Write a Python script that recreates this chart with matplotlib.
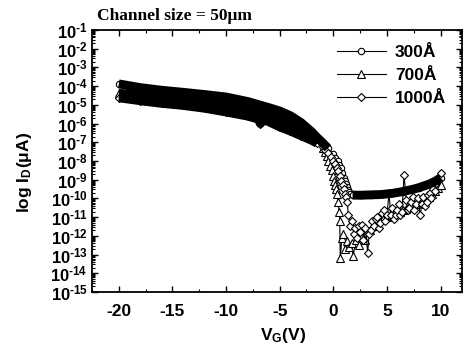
import numpy as np
import matplotlib
matplotlib.use('Agg')
import matplotlib.pyplot as plt
from matplotlib.lines import Line2D
from matplotlib.ticker import LogLocator, FuncFormatter, NullFormatter, MultipleLocator

# ---------------- data ----------------
labels = ['300Å', '700Å', '1000Å']

V_300 = [-20, -18, -16, -14, -12, -10, -8, -6, -5, -4, -3, -2, -1.5, -1.0, -0.5, 0.0, 0.2,
         0.4, 0.55, 0.7, 0.85, 1.0, 1.1, 1.2, 1.3, 1.4, 1.5, 1.6, 1.8, 2.5, 3.5, 4.5, 5.5, 6.5,
         7.5, 8.0, 8.5, 9.0, 9.5, 10.0]
logI_300 = [-3.88, -4.08, -4.22, -4.33, -4.45, -4.58, -4.82, -5.15, -5.33, -5.58, -5.95, -6.45, -6.75,
            -7.02, -7.32, -7.65, -7.85, -8.00, -8.20, -8.40, -8.65, -8.90, -9.05, -9.25, -9.40,
            -9.55, -9.68, -9.75, -9.82, -9.83, -9.81, -9.79, -9.73, -9.63, -9.50, -9.42, -9.32,
            -9.22, -9.08, -8.90]

V_700 = [-20, -18, -16, -14, -12, -10, -8, -6, -5, -4, -3, -2, -1.5, -1.0, -0.8, -0.6, -0.45, -0.3,
         -0.15, 0.0, 0.1, 0.2, 0.28, 0.35, 0.45, 0.55, 0.6, 0.65, 0.8, 0.95, 1.1, 1.3, 1.5, 1.7,
         1.85, 2.1, 2.4, 2.7, 3.0, 3.4, 3.8, 4.2, 4.6, 5.0, 5.3, 5.6, 5.9, 6.2, 6.5, 6.8, 7.1,
         7.4, 7.7, 8.0, 8.3, 8.6, 8.9, 9.2, 9.5, 9.75, 10.0]
logI_700 = [-4.39, -4.45, -4.56, -4.67, -4.80, -4.97, -5.20, -5.52, -5.75, -6.00, -6.30, -6.65, -6.90,
            -7.30, -7.50, -7.75, -8.00, -8.25, -8.50, -8.80, -9.05, -9.30, -9.50, -9.75, -10.20,
            -10.75, -11.20, -13.20, -12.10, -11.90, -12.70, -12.30, -12.60, -12.40, -13.10, -12.20,
            -12.50, -12.00, -12.20, -11.70, -11.50, -11.40, -11.10, -11.00, -10.90, -10.95, -10.80,
            -10.75, -10.60, -10.55, -10.45, -10.40, -10.30, -10.20, -10.10, -10.00, -9.90, -9.75,
            -9.60, -9.45, -9.30]

V_1000 = [-20, -18, -16, -14, -12, -10, -8, -7, -6.8, -6.6, -6, -5, -4, -3, -2, -1.5, -1.0, -0.75,
          -0.5, -0.25, 0.0, 0.15, 0.3, 0.45, 0.6, 0.75, 0.9, 1.0, 1.1, 1.2, 1.3, 1.4, 1.6, 1.75,
          1.9, 2.05, 2.2, 2.35, 2.5, 2.65, 2.8, 3.0, 3.2, 3.35, 3.5, 3.65, 3.8, 3.95, 4.1, 4.25,
          4.4, 4.55, 4.7, 4.85, 5.0, 5.2, 5.35, 5.5, 5.65, 5.8, 5.95, 6.1, 6.25, 6.4, 6.6, 6.8,
          6.95, 7.1, 7.25, 7.4, 7.55, 7.7, 7.9, 8.1, 8.25, 8.4, 8.55, 8.7, 8.85, 9.0, 9.15, 9.3,
          9.45, 9.6, 9.8, 10.0]
logI_1000 = [-4.62, -4.78, -4.92, -5.03, -5.18, -5.38, -5.60, -5.76, -6.00, -5.80, -5.90, -6.18, -6.40,
             -6.65, -6.90, -7.05, -7.25, -7.40, -7.55, -7.80, -8.00, -8.15, -8.35, -8.55, -8.80,
             -9.05, -9.30, -9.50, -9.75, -9.95, -10.20, -10.90, -11.50, -11.20, -11.90, -11.60,
             -12.10, -11.50, -11.80, -11.40, -12.20, -11.60, -12.90, -11.90, -11.70, -11.20, -11.50,
             -11.10, -11.00, -11.60, -11.30, -10.80, -10.60, -11.20, -10.90, -9.70, -10.90, -10.50,
             -11.10, -10.90, -10.60, -10.30, -10.90, -10.70, -8.75, -10.10, -10.60, -10.50, -10.20,
             -9.95, -10.60, -10.30, -10.00, -10.90, -10.30, -9.90, -10.40, -10.20, -9.80, -9.70,
             -10.00, -9.50, -9.60, -9.20, -9.00, -8.65]

x_ticks = [-20, -15, -10, -5, 0, 5, 10]
title_text = 'Channel size = 50μm'

# ---------------- style ----------------
plt.rcParams['font.family'] = ['Liberation Sans', 'DejaVu Sans']
plt.rcParams['font.weight'] = 'bold'
plt.rcParams['axes.unicode_minus'] = False
plt.rcParams['mathtext.fontset'] = 'custom'
plt.rcParams['mathtext.rm'] = 'Liberation Sans:bold'
plt.rcParams['mathtext.it'] = 'Liberation Sans:bold'
plt.rcParams['mathtext.bf'] = 'Liberation Sans:bold'
plt.rcParams['mathtext.default'] = 'rm'

fig = plt.figure(figsize=(4.65, 3.51), dpi=100)
ax = fig.add_axes([92 / 465, 1 - 292 / 351, 370 / 465, 262 / 351])

markers = ['o', '^', 'D']
msizes = [4.6, 5.2, 4.4]
# band segments where dense markers merge into a solid black ribbon
band_ranges = [[(-20, -0.5), (1.8, 10)], [(-20, -1.2)], [(-20, -1.2)]]

for V, L, m, ms, bands in zip([V_300, V_700, V_1000], [logI_300, logI_700, logI_1000],
                              markers, msizes, band_ranges):
    V = np.asarray(V, float)
    I = 10.0 ** np.asarray(L, float)
    ax.plot(V, I, '-', color='k', lw=0.8, marker=m, ms=ms, mfc='white', mec='k', mew=0.8, zorder=2)
    for lo, hi in bands:
        sel = (V >= lo) & (V <= hi)
        ax.plot(V[sel], I[sel], '-', color='k', lw=6.4, solid_capstyle='butt',
                solid_joinstyle='round', zorder=3)

ax.set_yscale('log')
ax.set_xlim(-22.5, 12)
ax.set_ylim(1e-15, 1e-1)

ax.yaxis.set_major_locator(LogLocator(base=10, numticks=30))
ax.yaxis.set_minor_locator(LogLocator(base=10, subs=np.arange(2, 10), numticks=30))
ax.yaxis.set_minor_formatter(NullFormatter())
ax.yaxis.set_major_formatter(FuncFormatter(lambda v, p: r'$10^{\text{-}%d}$' % abs(int(round(np.log10(v))))))
ax.set_xticks(x_ticks)
ax.xaxis.set_minor_locator(MultipleLocator(2.5))

ax.tick_params(axis='both', which='both', direction='in', top=True, right=True)
ax.tick_params(axis='both', which='major', length=4, width=1.0)
ax.tick_params(axis='both', which='minor', length=2, width=0.8)
ax.tick_params(axis='y', which='major', labelsize=12, pad=3)
ax.tick_params(axis='x', which='major', labelsize=12.5, pad=9)
for s in ax.spines.values():
    s.set_linewidth(1.3)

ax.set_ylabel('log I$_{D}$(μA)', fontsize=12.5, fontweight='bold')
ax.yaxis.set_label_coords(-0.158, 0.458)
ax.set_xlabel('V$_{G}$(V)', fontsize=12.5, fontweight='bold')
ax.xaxis.set_label_coords(0.516, -0.13)

handles = [Line2D([], [], color='k', lw=0.8, marker=m, ms=ms, mfc='white', mec='k', mew=0.8)
           for m, ms in zip(markers, msizes)]
ax.legend(handles, labels, loc='upper left', bbox_to_anchor=(0.662, 0.943), frameon=False,
          fontsize=12.5, handlelength=2.8, handletextpad=0.55, labelspacing=0.45,
          borderpad=0, borderaxespad=0)

fig.text(97 / 465, 1 - 20 / 351, title_text, family=['Liberation Serif', 'DejaVu Serif'],
         fontweight='bold', fontsize=12.5, va='baseline', ha='left')

fig.savefig('out.png', dpi=100)
